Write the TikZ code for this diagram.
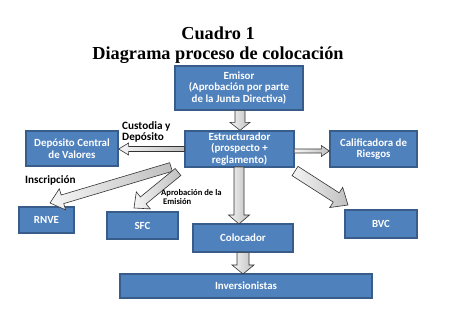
\documentclass[tikz,border=0pt]{standalone}
\usepackage{fontspec}
\setmainfont{Liberation Serif}
\newfontfamily\boxfont{Carlito}
\usetikzlibrary{calc}
\definecolor{boxblue}{HTML}{4F81BD}
\definecolor{boxedge}{HTML}{385D8A}
\tikzset{
  bx/.style={draw=boxedge, line width=1.3pt, fill=boxblue, text=white,
    font=\boxfont\bfseries\fontsize{10.9}{11.5}\selectfont, align=center,
    inner sep=0pt, minimum width=#1},
  blockarrow/.style={draw=black!80, line width=0.6pt, left color=gray!8, right color=gray!50},
  lbl/.style={font=\boxfont\bfseries\fontsize{11.2}{11}\selectfont, align=left, inner sep=0pt, anchor=west},
}
\newcommand{\barrow}[5]{%
  \coordinate (ba-q) at ($(#2)!#5!(#1)$);
  \draw[blockarrow] ($(#1)!#3!90:(#2)$) -- ($(ba-q)!#3!90:(#2)$) -- ($(ba-q)!#4!90:(#2)$) -- (#2)
    -- ($(ba-q)!#4!-90:(#2)$) -- ($(ba-q)!#3!-90:(#2)$) -- ($(#1)!#3!-90:(#2)$) -- cycle;
}
\begin{document}
\begin{tikzpicture}[x=1pt,y=-1pt]
\useasboundingbox (0,0) rectangle (464,315);
\node[font=\bfseries\fontsize{18.3}{19.5}\selectfont, align=center] (title) at (218,45) {Cuadro 1\\Diagrama proceso de colocación};

\node[bx=128pt, minimum height=44pt] (emi) at (239,88) {Emisor\\(Aprobación por parte\\de la Junta Directiva)};
\node[bx=109pt, minimum height=36pt] (est) at (239.5,149) {Estructurador\\(prospecto +\\reglamento)};
\node[bx=92pt, minimum height=35pt] (dep) at (72,148.5) {Depósito Central\\de Valores};
\node[bx=87pt, minimum height=36pt] (cal) at (373.5,149) {Calificadora de\\Riesgos};
\node[bx=55pt, minimum height=26pt] (rnve) at (46.5,220) {RNVE};
\node[bx=71pt, minimum height=27pt] (sfc) at (142.5,225.5) {SFC};
\node[bx=100pt, minimum height=28pt] (col) at (243,238) {Colocador};
\node[bx=72pt, minimum height=28pt] (bvc) at (381,224) {BVC};
\node[bx=252pt, minimum height=24pt] (inv) at (246,286) {Inversionistas};

% arrow end points
\coordinate (a1s) at ($(emi.south)+(1,0)$);
\coordinate (a1e) at ($(est.north)+(0.5,0)$);
\coordinate (a2s) at ($(est.west)+(0,0)$);
\coordinate (a2e) at ($(dep.east)+(0,0.5)$);
\coordinate (a3s) at ($(est.east)+(0,2)$);
\coordinate (a3e) at ($(cal.west)+(0,2)$);
\coordinate (a4s) at (171,167);
\coordinate (a4e) at (50,203);
\coordinate (a5s) at (178,172);
\coordinate (a5e) at (134,208);
\coordinate (a6s) at (239,167);
\coordinate (a6e) at (239,224);
\coordinate (a7s) at (295,171);
\coordinate (a7e) at (348,205);
\coordinate (a8s) at (col.south);
\coordinate (a8e) at (243,274);

\barrow{a1s}{a1e}{5pt}{10pt}{8pt}
\barrow{a2s}{a2e}{2.5pt}{6pt}{10pt}
\barrow{a3s}{a3e}{2pt}{5.5pt}{8pt}
\barrow{a4s}{a4e}{4.5pt}{11pt}{13pt}
\barrow{a5s}{a5e}{4.5pt}{11pt}{12pt}
\barrow{a6s}{a6e}{5pt}{10.5pt}{9pt}
\barrow{a7s}{a7e}{5.5pt}{12pt}{14pt}
\barrow{a8s}{a8e}{6pt}{11pt}{9pt}

\node[lbl] (l1) at (122,131.5) {Custodia y\\Depósito};
\node[lbl] (l2) at (25,180) {Inscripción};
\node[lbl, font=\boxfont\bfseries\fontsize{8.6}{9}\selectfont] (l3) at (161,197.5) {Aprobación de la\\\hspace*{2pt}Emisión};
\end{tikzpicture}
\end{document}
